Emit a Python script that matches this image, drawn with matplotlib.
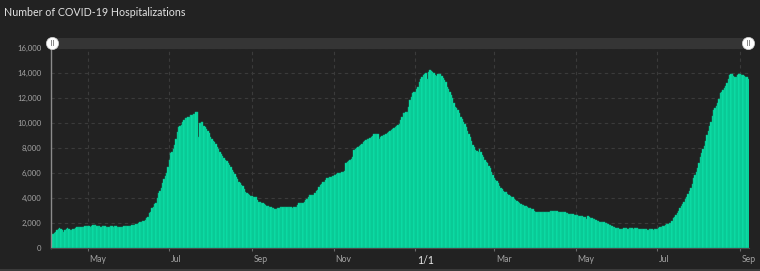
import matplotlib
matplotlib.use('Agg')
import matplotlib.pyplot as plt
from matplotlib.patches import Rectangle
from matplotlib.lines import Line2D
import matplotlib.transforms as mtransforms
import pandas as pd

# ---------------- data (daily hospitalizations) ----------------
start_date = '2020-04-04'
apr_2020 = [900, 1150, 1230, 1320, 1430, 1500, 1570, 1530, 1450, 1300, 1480, 1550, 1570, 1520,
            1420, 1450, 1490, 1560, 1640, 1710, 1690, 1650, 1700, 1720, 1700, 1760, 1740]
may_2020 = [1780, 1760, 1650, 1800, 1840, 1870, 1850, 1800, 1780, 1740, 1700, 1760, 1790, 1770,
            1720, 1680, 1720, 1760, 1740, 1700, 1730, 1760, 1680, 1700, 1650, 1690, 1710, 1730,
            1750, 1760, 1800]
jun_2020 = [1780, 1800, 1820, 1850, 1880, 1900, 1950, 2000, 2050, 2100, 2150, 2200, 2250, 2370,
            2500, 2770, 2900, 3170, 3300, 3500, 3570, 3970, 4370, 4550, 4770, 5170, 5520, 5750,
            5970, 6500]
jul_2020 = [7040, 7570, 7700, 7890, 8240, 8690, 9300, 9700, 9750, 9840, 10100, 10250, 10370,
            10400, 10500, 10450, 10610, 10650, 10690, 10750, 10850, 10900, 8900, 10030, 10080,
            10100, 9760, 9650, 9500, 9390, 9200]
aug_2020 = [8900, 8750, 8600, 8500, 8300, 8100, 7900, 7700, 7520, 7350, 7170, 7050, 6950, 6800,
            6640, 6450, 6240, 6050, 5900, 5710, 5500, 5310, 5200, 5080, 4960, 4750, 4510, 4420,
            4330, 4240, 4200]
sep_2020 = [4160, 4120, 4100, 4050, 3850, 3710, 3650, 3600, 3570, 3500, 3410, 3380, 3350, 3310,
            3280, 3230, 3200, 3160, 3120, 3180, 3230, 3250, 3260, 3280, 3300, 3310, 3290, 3300,
            3310, 3250]
oct_2020 = [3230, 3280, 3300, 3310, 3450, 3570, 3600, 3620, 3630, 3700, 3840, 3950, 4100, 4240,
            4250, 4230, 4240, 4400, 4550, 4640, 4850, 5040, 5150, 5250, 5310, 5450, 5570, 5620,
            5680, 5710, 5750]
nov_2020 = [5790, 5850, 5900, 5970, 5990, 6000, 6050, 6100, 6160, 6770, 6850, 6950, 7040, 7150,
            7310, 7840, 7900, 8000, 8110, 8180, 8240, 8350, 8450, 8560, 8620, 8690, 8750, 8800,
            8850, 8950]
dec_2020 = [9120, 9150, 9100, 9120, 8690, 8850, 8950, 9040, 9080, 9120, 9200, 9310, 9380, 9420,
            9490, 9600, 9710, 9780, 9850, 9920, 10240, 10500, 10770, 10770, 10910, 10910, 11310,
            11840, 12100, 12370, 12450]
jan_2021 = [12500, 12700, 12900, 13310, 13500, 13710, 13850, 13920, 13970, 13490, 14100, 14240,
            14200, 14100, 13970, 13850, 13760, 13920, 13950, 13900, 13750, 13570, 13450, 13310,
            12900, 12700, 12500, 12250, 11970, 11600, 11310]
feb_2021 = [11200, 11040, 10800, 10510, 10300, 10110, 9900, 9710, 9390, 9150, 8910, 8600, 8240,
            8050, 7840, 7780, 7710, 7890, 7650, 7440, 7250, 7040, 6900, 6770, 6550, 6370, 6100,
            5840]
mar_2021 = [5570, 5480, 5390, 5200, 4960, 4800, 4690, 4600, 4520, 4450, 4350, 4240, 4180, 4120,
            4050, 3950, 3840, 3750, 3650, 3570, 3500, 3440, 3420, 3400, 3390, 3300, 3230, 3180,
            3130, 3090, 3000]
apr_2021 = [2910, 2880, 2860, 2850, 2870, 2900, 2880, 2860, 2850, 2870, 2900, 2940, 2970, 2990,
            2980, 2960, 2940, 2920, 2900, 2910, 2900, 2870, 2850, 2830, 2780, 2720, 2730, 2740,
            2720, 2680]
may_2021 = [2640, 2610, 2590, 2590, 2560, 2540, 2510, 2480, 2290, 2560, 2480, 2430, 2400, 2350,
            2300, 2240, 2190, 2150, 2110, 2090, 2070, 2050, 2010, 1970, 1920, 1880, 1840, 1780,
            1710, 1670, 1640]
jun_2021 = [1630, 1590, 1550, 1540, 1560, 1570, 1580, 1570, 1560, 1570, 1580, 1570, 1560, 1570,
            1580, 1570, 1560, 1540, 1520, 1510, 1490, 1500, 1490, 1480, 1490, 1500, 1490, 1480,
            1500, 1520]
jul_2021 = [1550, 1600, 1650, 1700, 1750, 1790, 1850, 1920, 1960, 2000, 2030, 2200, 2370, 2500,
            2630, 2770, 2970, 3170, 3350, 3530, 3710, 3900, 4110, 4300, 4530, 4770, 5150, 5570,
            5830, 6100, 6370]
aug_2021 = [6800, 7310, 7600, 7900, 8160, 8600, 9040, 9400, 9750, 10110, 10600, 11040, 11200,
            11400, 11570, 11950, 12370, 12500, 12650, 12770, 12950, 13170, 13500, 13840, 13900,
            13920, 13800, 13710, 13700, 13850, 13920]
sep_2021 = [13900, 13880, 13840, 13780, 13710, 13650, 13520]

values = (apr_2020 + may_2020 + jun_2020 + jul_2020 + aug_2020 + sep_2020 + oct_2020 +
          nov_2020 + dec_2020 + jan_2021 + feb_2021 + mar_2021 + apr_2021 + may_2021 +
          jun_2021 + jul_2021 + aug_2021 + sep_2021)
dates = pd.date_range(start_date, periods=len(values), freq='D')

tick_dates = ['2020-05-01', '2020-07-01', '2020-09-01', '2020-11-01', '2021-01-01',
              '2021-03-01', '2021-05-01', '2021-07-01', '2021-09-01']
tick_labels = ['May', 'Jul', 'Sep', 'Nov', '1/1', 'Mar', 'May', 'Jul', 'Sep']
y_ticks = [0, 2000, 4000, 6000, 8000, 10000, 12000, 14000, 16000]
title = 'Number of COVID-19 Hospitalizations'

# ---------------- style ----------------
W, H = 760, 271
BG = '#222222'
BAR = '#0ce4ab'
BAR_EDGE = '#08b485'
GRID = '#3b3b3b'
LABEL = '#a3a3a3'

fig = plt.figure(figsize=(W / 100, H / 100), dpi=100, facecolor=BG)
ax = fig.add_axes([51 / W, 23 / H, 698 / W, 200 / H])
ax.set_facecolor(BG)

ax.bar(dates, values, width=1.0, color=BAR, edgecolor=BAR_EDGE, linewidth=0.3, zorder=2)
ax.set_xlim(dates[0] - pd.Timedelta(hours=12), dates[-1] + pd.Timedelta(hours=12))
ax.set_ylim(0, 16000)

ax.set_axisbelow(True)
ax.grid(True, color=GRID, linestyle=(0, (3, 3)), linewidth=0.8)

for s in ['top', 'right']:
    ax.spines[s].set_visible(False)
ax.spines['left'].set_color('#8c8c8c')
ax.spines['left'].set_linewidth(1.0)
ax.spines['bottom'].set_color('#4a4a4a')
ax.spines['bottom'].set_linewidth(0.8)

ax.set_yticks(y_ticks)
ax.set_yticklabels([f'{v:,}' for v in y_ticks])
ax.tick_params(axis='y', length=0, pad=7, labelsize=5.6, labelcolor=LABEL)
for lab in ax.get_yticklabels():
    lab.set_family('Lato')

ax.set_xticks(pd.to_datetime(tick_dates))
ax.set_xticklabels(tick_labels)
ax.tick_params(axis='x', length=2.5, width=0.8, color='#6a6a6a', pad=2.5,
               labelsize=6.2, labelcolor=LABEL)
offset = mtransforms.ScaledTranslation(1.5 / 100, 0, fig.dpi_scale_trans)
for lab in ax.get_xticklabels():
    lab.set_ha('left')
    lab.set_family('Lato')
    lab.set_transform(lab.get_transform() + offset)
    if lab.get_text() == '1/1':
        lab.set_fontsize(7.6)
        lab.set_color('#e6e6e6')

# title
fig.text(4 / W, 1 - 12 / H, title, ha='left', va='center', fontsize=7.7,
         color='#e2e2e2', family='Lato')

# scrollbar band
fig.patches.append(Rectangle((51 / W, 1 - 49 / H), 700 / W, 11 / H,
                             transform=fig.transFigure, facecolor='#353535',
                             edgecolor='none', zorder=1))
for hx in [51.8, 747.7]:
    hy = 42.8
    fig.add_artist(Line2D([hx / W], [1 - hy / H], marker='o', markersize=8.8,
                          markerfacecolor='white', markeredgecolor='#cfcfcf',
                          markeredgewidth=0.5, transform=fig.transFigure, zorder=5))
    for dx in [-1.2, 1.2]:
        fig.add_artist(Line2D([(hx + dx) / W, (hx + dx) / W],
                              [1 - (hy - 2.6) / H, 1 - (hy + 2.6) / H],
                              color='#888888', linewidth=0.7,
                              transform=fig.transFigure, zorder=6))

# bottom border strip
fig.patches.append(Rectangle((0, 0), 1, 2 / H, transform=fig.transFigure,
                             facecolor='#3a3a3a', edgecolor='none'))

fig.savefig('out.png', dpi=100, facecolor=BG)
